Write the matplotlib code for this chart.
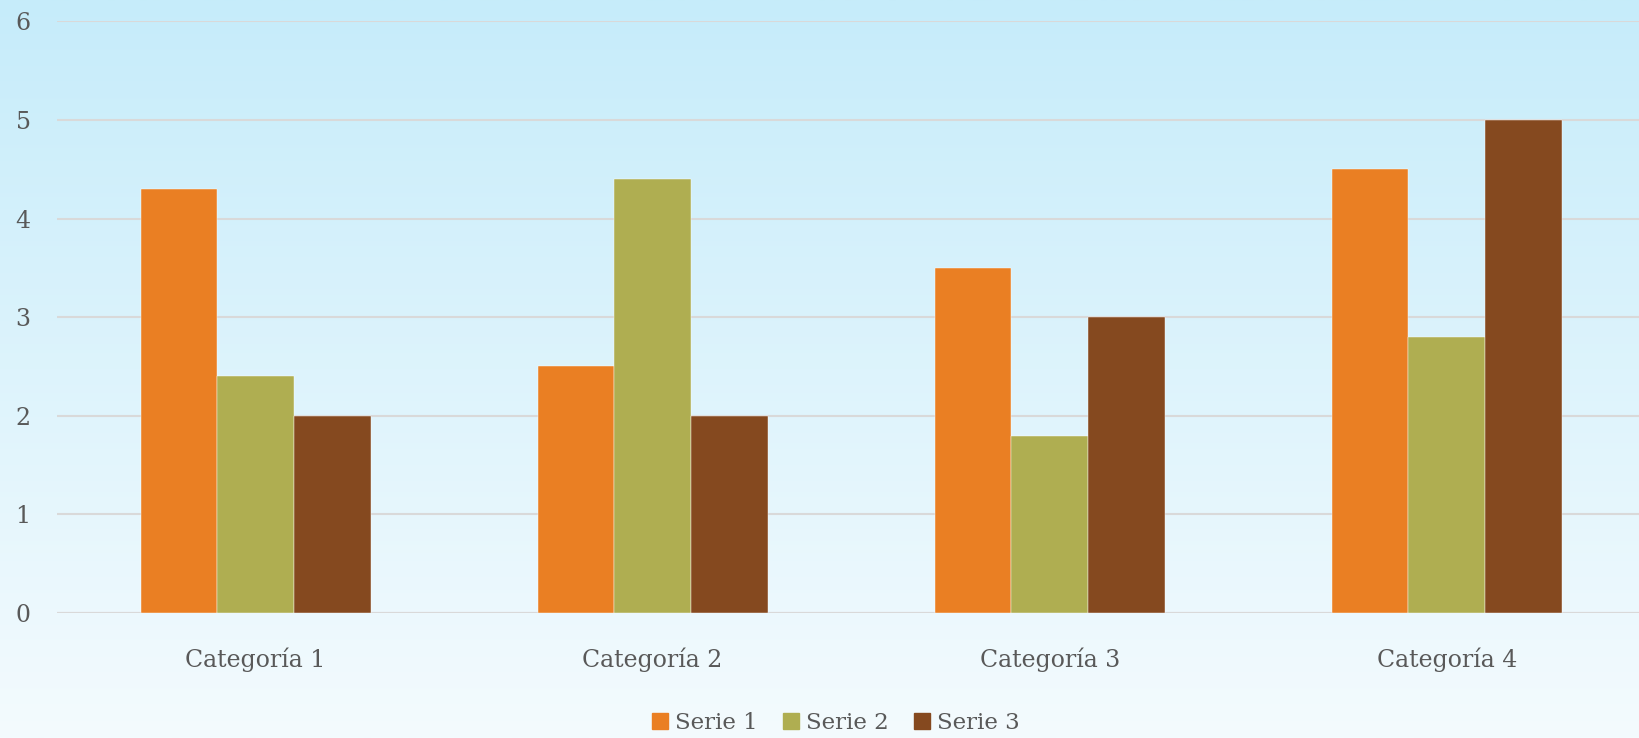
import numpy as np
import matplotlib.pyplot as plt
from matplotlib.patches import Patch

categories = ["Categoría 1", "Categoría 2", "Categoría 3", "Categoría 4"]
series_names = ["Serie 1", "Serie 2", "Serie 3"]
serie1 = [4.3, 2.5, 3.5, 4.5]
serie2 = [2.4, 4.4, 1.8, 2.8]
serie3 = [2.0, 2.0, 3.0, 5.0]
colors = ["#ea7f23", "#afae51", "#85491f"]

plt.rcParams["font.family"] = ["DejaVu Serif"]
text_color = "#595959"

fig = plt.figure(figsize=(16.39, 7.38), dpi=100)

# gradient background
bg = fig.add_axes([0, 0, 1, 1], zorder=-10)
grad = np.linspace(0, 1, 256).reshape(-1, 1)
top = np.array([198, 236, 250]) / 255
bottom = np.array([244, 251, 254]) / 255
img = top + (bottom - top) * grad[:, :, None]
bg.imshow(img, aspect="auto", extent=[0, 1, 0, 1])
bg.axis("off")

ax = fig.add_axes([0.0348, 0.1694, 0.969, 0.8016])
ax.patch.set_alpha(0)

x = np.arange(len(categories))
w = 0.193
for i, vals in enumerate([serie1, serie2, serie3]):
    ax.bar(x + (i - 1) * w, vals, width=w, color=colors[i],
           edgecolor="white", linewidth=0.3, zorder=3)

ax.set_xlim(-0.5, len(categories) - 0.5)
ax.set_ylim(0, 6)
ax.set_yticks(range(0, 7))
ax.yaxis.grid(True, color="#d9d9d9", linewidth=1.5, zorder=0)
ax.set_axisbelow(True)
for s in ax.spines.values():
    s.set_visible(False)
ax.axhline(0, color="#d9d9d9", linewidth=1.5, zorder=2)

ax.set_xticks(x)
ax.set_xticklabels(categories, fontsize=17, color=text_color)
ax.tick_params(axis="x", length=0, pad=25)
ax.tick_params(axis="y", length=0, pad=19, labelsize=17, labelcolor=text_color)

handles = [Patch(color=c) for c in colors]
fig.legend(handles, series_names, loc="center", bbox_to_anchor=(0.51, 0.02),
           ncol=3, frameon=False, fontsize=16.5, labelcolor=text_color,
           handlelength=0.7, handleheight=0.7, handletextpad=0.3, columnspacing=1.1)

fig.savefig("out.png", dpi=100)
